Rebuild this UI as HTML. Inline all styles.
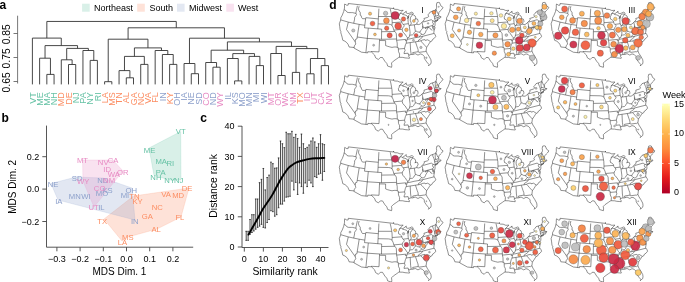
<!DOCTYPE html>
<html><head><meta charset="utf-8"><style>
html,body{margin:0;padding:0;background:#fff;}
svg{display:block;font-family:"Liberation Sans", sans-serif;will-change:transform;}
</style></head><body>
<svg width="685" height="282" viewBox="0 0 685 282">
<rect width="685" height="282" fill="#fff"/>
<defs><path id="us" d="M348.3 3.5L348.2 5.1L346.9 5.3L344.7 4.0L344.5 5.2L344.5 8.0L344.1 9.6L343.7 11.5L342.3 15.1L340.8 17.8L340.7 19.9L339.3 23.8L339.7 26.3L340.2 30.5L341.0 31.3L340.8 32.8L341.4 34.6L342.1 37.1L342.8 40.3L345.0 41.2L346.8 42.7L348.0 44.2L348.9 46.4L349.0 47.0L354.1 47.5L353.9 48.0L361.5 52.2L367.7 52.9L367.8 51.7L371.5 52.0L374.6 55.0L375.6 57.8L378.4 59.5L380.3 57.5L382.5 57.5L384.9 61.3L386.8 63.4L387.7 66.1L391.6 67.3L391.8 65.5L391.5 63.0L393.3 61.2L396.8 58.8L398.5 57.6L399.4 57.3L402.8 57.4L405.0 57.9L407.5 58.1L409.4 58.3L409.5 57.4L408.5 56.2L409.1 55.5L408.6 55.2L411.2 54.4L412.1 54.6L413.2 54.3L415.3 53.7L418.0 55.1L420.2 53.9L422.4 54.5L424.3 56.5L424.4 58.5L426.2 61.2L427.6 63.0L429.0 64.5L428.5 65.9L429.7 64.7L430.9 63.8L431.2 61.9L430.9 59.7L429.0 56.2L427.1 53.3L426.1 50.9L426.6 47.3L428.3 44.9L429.4 43.1L430.5 41.6L431.8 41.1L432.7 39.3L434.2 38.4L435.8 36.4L435.2 34.9L434.2 33.4L433.8 32.6L434.1 30.9L434.4 29.4L434.4 28.3L434.1 27.4L433.2 26.4L434.3 27.0L435.0 25.5L435.1 23.6L434.9 22.6L435.3 22.2L438.2 19.9L436.3 20.9L435.1 21.3L436.3 20.1L438.1 19.3L438.8 18.6L439.3 18.3L440.1 17.9L441.1 17.2L440.6 16.3L440.0 17.2L439.3 16.3L438.7 16.2L439.1 15.2L438.5 14.8L438.6 14.2L438.9 12.5L440.5 10.6L441.6 9.6L443.1 7.5L440.9 5.9L439.5 2.6L438.4 2.4L436.9 2.7L436.4 5.0L436.7 7.1L436.3 8.7L435.9 9.1L435.5 10.1L430.2 12.0L428.8 14.0L428.0 14.8L428.7 16.5L427.5 17.4L423.9 18.5L424.4 19.3L423.2 21.3L422.0 22.3L420.1 24.1L418.3 24.6L416.8 24.2L417.1 22.6L418.1 21.6L418.0 20.6L417.5 19.1L415.8 18.7L415.0 19.7L415.7 17.7L415.2 16.0L413.7 15.0L412.5 14.4L412.2 15.5L411.2 16.2L410.4 17.9L410.3 20.5L411.3 23.2L410.5 25.3L409.2 25.6L408.4 23.7L408.2 22.4L408.0 19.9L408.7 16.4L407.9 18.1L407.3 18.7L407.8 17.1L408.6 15.4L409.4 14.8L411.0 13.9L412.5 14.2L413.4 13.2L412.7 12.6L411.6 12.2L409.1 13.4L407.6 13.5L406.0 12.7L406.3 11.2L405.2 12.0L404.0 13.1L402.3 14.0L401.2 13.3L399.4 14.0L402.6 10.9L403.2 10.3L400.0 10.5L397.4 9.4L394.7 9.3L393.7 8.6L393.6 7.7L393.7 8.6L348.3 3.5ZM344.1 9.6L345.8 10.5L347.1 12.2L348.8 12.6L351.5 12.6L352.4 12.6L356.0 13.4M357.4 5.8L356.0 12.3L356.0 13.4M356.0 13.4L356.5 14.5L355.7 15.9L354.6 17.5L354.6 19.1L353.7 23.3M340.7 19.9L348.3 22.1L353.7 23.3L359.2 24.4L364.8 25.3M348.3 22.1L346.5 29.5L355.2 41.8M355.2 41.8L355.5 39.3L356.9 39.0L357.2 37.0M357.2 37.0L359.2 24.4M355.2 41.8L355.8 44.0L354.4 45.8L354.1 47.5M359.1 6.2L358.5 8.7L358.8 10.3L360.3 12.7L360.2 15.2L361.2 15.7L361.5 17.3L362.5 18.7L364.9 18.7L365.6 19.0M365.6 19.0L364.8 25.3M365.6 19.0L365.8 17.7L378.3 18.9M378.9 8.7L377.8 29.0M364.8 25.3L364.5 27.8L381.7 29.2L381.6 31.7M368.3 28.3L365.9 52.7M357.2 37.0L367.2 38.4M367.2 38.4L381.5 39.3L381.6 31.7M379.5 39.3L379.5 40.5L379.0 51.9L371.3 51.5L371.5 52.0M378.5 16.5L391.7 16.5M390.2 8.8L391.0 12.3L391.6 15.6L391.7 16.5L392.0 18.1L392.2 22.7M392.2 22.7L392.0 25.3M378.1 23.9L388.4 24.1L390.3 24.4L392.0 25.3M392.0 25.3L393.2 27.8L393.8 30.1L394.8 31.5M381.6 31.7L394.8 31.5M394.8 31.5L395.6 32.5L396.3 33.7L396.6 39.0M381.5 39.3L396.6 39.0M379.5 40.5L385.6 40.6L385.6 45.5L387.3 46.2L389.8 46.9L392.0 47.4L394.1 47.0L396.2 47.0L397.3 47.5M396.6 39.0L396.6 40.3L397.2 43.0L397.3 47.5M397.3 47.5L398.3 47.7L398.5 51.6L399.6 54.0L399.5 55.8L399.4 57.3M398.4 49.0L404.5 48.5M396.6 40.3L405.7 39.4L405.4 40.8L406.8 40.6M406.8 40.6L406.5 41.9L406.2 43.2L405.4 44.9L404.5 48.5L405.1 50.5L404.3 52.1L404.0 53.6L408.1 53.2L408.6 55.2M393.8 30.1L401.6 29.4L402.2 29.9M402.2 29.9L402.8 31.8L404.2 33.5L405.1 34.2L406.5 36.5L407.6 37.9M407.6 37.9L407.1 39.3L406.8 40.6M392.2 22.7L401.8 22.0M401.8 22.0L402.1 23.2L403.1 24.4L404.2 25.6L403.7 26.9L402.8 27.8L402.2 29.9M399.4 14.0L399.2 15.6L398.4 16.9L398.7 19.1L400.1 19.7L401.7 21.2L401.8 22.0M403.1 24.4L408.4 23.7M402.3 14.0L402.9 14.5L404.8 14.9L406.6 15.5L407.8 17.1M409.2 25.6L410.0 31.6L410.1 33.2L409.6 35.6M409.6 35.6L409.0 37.5L407.6 37.9M410.5 25.3L414.3 24.8L416.8 24.2M414.3 24.8L415.4 31.3M415.4 31.3L414.4 32.4L413.8 33.7L412.6 34.8L410.6 35.1L409.6 35.6M415.4 31.3L416.2 31.1L417.8 32.0L420.0 32.1M420.0 32.1L420.7 30.7L421.7 29.4L422.7 28.2L422.6 25.7M422.8 25.7L422.0 22.3M423.2 21.3L423.4 22.0L431.3 19.7L433.0 20.9M433.0 20.9L432.5 22.3L433.0 23.5L433.7 23.8L433.1 24.8L432.7 25.2M432.7 25.2L432.2 25.6L423.3 28.0L422.8 25.7M432.7 25.2L432.9 25.9M432.2 25.6L433.0 28.7L434.4 28.3M433.2 30.0L434.4 29.4M432.4 30.2L430.8 29.5L430.4 28.5L429.3 27.8L428.7 27.6M428.7 27.6L427.5 27.2L426.6 27.5L425.6 28.8L425.3 27.5M428.7 27.6L427.6 27.7L427.0 29.5L426.0 30.8L425.5 32.2L425.0 33.4L423.9 34.2L422.8 34.6L421.7 34.1M421.7 34.1L421.0 33.8L420.1 32.8L420.0 32.1M421.7 34.1L420.4 35.4L418.8 37.1M418.8 37.1L422.7 36.3L434.2 33.4M418.8 37.1L414.1 37.9L410.0 38.9L407.1 39.3M422.7 36.3L421.9 37.8L420.3 39.0L418.6 40.0L418.2 41.4M418.2 41.4L406.2 43.2M418.2 41.4L420.7 40.9M420.7 40.9L422.2 40.1L424.8 39.6L425.2 40.4L427.7 39.8L430.5 41.6M420.7 40.9L422.0 42.2L423.6 44.1L424.9 45.5L426.6 47.3M415.5 41.9L417.2 47.1L418.0 49.2L418.3 51.7M418.3 51.7L418.8 52.4L424.5 51.6L424.9 51.9L426.1 50.9M418.3 51.7L412.7 52.6L413.2 54.3M410.2 42.7L410.6 50.6L411.2 54.4M432.5 11.2L433.1 13.4L433.8 14.7L434.4 16.6M434.4 16.6L434.6 18.5L435.3 20.8L435.1 21.3M433.0 20.9L434.7 21.3L434.7 22.3M435.5 10.1L435.7 11.1L435.2 12.1L435.3 14.3L435.8 16.2M434.4 16.6L435.8 16.2L437.9 15.5L438.5 14.8M435.9 9.1L437.2 12.2L437.8 13.6L438.6 14.2M434.6 18.5L437.6 17.5L438.3 17.2L438.9 17.9L439.3 18.3M437.6 17.5L438.1 19.3" fill="none" stroke="#222" stroke-width="0.5" stroke-linejoin="round"/></defs>
<text x="-0.6" y="8.7" font-size="12" font-weight="bold">a</text>
<text x="1.6" y="121.8" font-size="12" font-weight="bold">b</text>
<text x="200.2" y="122" font-size="12" font-weight="bold">c</text>
<text x="329.2" y="8.7" font-size="12" font-weight="bold">d</text>
<rect x="82.1" y="3.7" width="7.6" height="8" fill="#d9f0e8"/>
<text x="94" y="11.1" font-size="9">Northeast</text>
<rect x="137.2" y="3.7" width="7.6" height="8" fill="#fee2d8"/>
<text x="149.5" y="11.1" font-size="9">South</text>
<rect x="177" y="3.7" width="7.6" height="8" fill="#e3e8f2"/>
<text x="189" y="11.1" font-size="9">Midwest</text>
<rect x="226.3" y="3.7" width="7.6" height="8" fill="#f9e2f0"/>
<text x="238" y="11.1" font-size="9">West</text>
<path d="M46.84 84.4V74.4H54.07V84.4M39.62 84.4V58.2H50.45V74.4M68.51 84.4V64.5H75.73V84.4M61.29 84.4V59.8H72.12V64.5M90.18 84.4V60.4H97.4V84.4M82.95 84.4V50.5H93.79V60.4M66.7 59.8V48.4H88.37V50.5M45.04 58.2V45.6H77.54V48.4M32.4 84.4V38.1H61.29V45.6M104.62 84.4V81.7H111.84V84.4M126.29 84.4V77.8H133.51V84.4M119.06 84.4V70.6H129.9V77.8M140.73 84.4V64.4H147.95V84.4M124.48 70.6V56.4H144.34V64.4M169.62 84.4V64.4H176.84V84.4M162.4 84.4V54.5H173.23V64.4M155.17 84.4V50.5H167.81V54.5M134.41 56.4V47.9H161.49V50.5M108.23 81.7V39.2H147.95V47.9M191.28 84.4V73.7H198.51V84.4M184.06 84.4V63.5H194.9V73.7M212.95 84.4V67.2H220.17V84.4M205.73 84.4V62.5H216.56V67.2M234.62 84.4V80.9H241.84V84.4M227.39 84.4V58.5H238.23V80.9M256.28 84.4V65.6H263.5V84.4M249.06 84.4V56.4H259.89V65.6M232.81 58.5V53.6H254.48V56.4M211.14 62.5V50.2H243.64V53.6M277.95 84.4V75.5H285.17V84.4M270.73 84.4V53.5H281.56V75.5M292.39 84.4V72.4H299.61V84.4M306.84 84.4V73.8H314.06V84.4M321.28 84.4V65.6H328.5V84.4M310.45 73.8V58.5H324.89V65.6M296 72.4V48.6H317.67V58.5M276.14 53.5V46.4H306.84V48.6M227.39 50.2V41.9H291.49V46.4M189.48 63.5V38.2H259.44V41.9M128.09 39.2V27.8H224.46V38.2M46.84 38.1V21.45H176.28V27.8" fill="none" stroke="#333" stroke-width="0.9"/>
<text x="35.6" y="92.3" font-size="9" fill="#66c2a5" text-anchor="end" transform="rotate(-90 35.6 92.3)">VT</text>
<text x="42.82" y="92.3" font-size="9" fill="#66c2a5" text-anchor="end" transform="rotate(-90 42.82 92.3)">ME</text>
<text x="50.04" y="92.3" font-size="9" fill="#66c2a5" text-anchor="end" transform="rotate(-90 50.04 92.3)">MA</text>
<text x="57.27" y="92.3" font-size="9" fill="#66c2a5" text-anchor="end" transform="rotate(-90 57.27 92.3)">NH</text>
<text x="64.49" y="92.3" font-size="9" fill="#fc8d62" text-anchor="end" transform="rotate(-90 64.49 92.3)">MD</text>
<text x="71.71" y="92.3" font-size="9" fill="#fc8d62" text-anchor="end" transform="rotate(-90 71.71 92.3)">DE</text>
<text x="78.93" y="92.3" font-size="9" fill="#66c2a5" text-anchor="end" transform="rotate(-90 78.93 92.3)">NJ</text>
<text x="86.15" y="92.3" font-size="9" fill="#66c2a5" text-anchor="end" transform="rotate(-90 86.15 92.3)">PA</text>
<text x="93.38" y="92.3" font-size="9" fill="#66c2a5" text-anchor="end" transform="rotate(-90 93.38 92.3)">NY</text>
<text x="100.6" y="92.3" font-size="9" fill="#66c2a5" text-anchor="end" transform="rotate(-90 100.6 92.3)">RI</text>
<text x="107.82" y="92.3" font-size="9" fill="#fc8d62" text-anchor="end" transform="rotate(-90 107.82 92.3)">LA</text>
<text x="115.04" y="92.3" font-size="9" fill="#fc8d62" text-anchor="end" transform="rotate(-90 115.04 92.3)">MS</text>
<text x="122.26" y="92.3" font-size="9" fill="#fc8d62" text-anchor="end" transform="rotate(-90 122.26 92.3)">TN</text>
<text x="129.49" y="92.3" font-size="9" fill="#fc8d62" text-anchor="end" transform="rotate(-90 129.49 92.3)">AL</text>
<text x="136.71" y="92.3" font-size="9" fill="#fc8d62" text-anchor="end" transform="rotate(-90 136.71 92.3)">GA</text>
<text x="143.93" y="92.3" font-size="9" fill="#fc8d62" text-anchor="end" transform="rotate(-90 143.93 92.3)">NC</text>
<text x="151.15" y="92.3" font-size="9" fill="#fc8d62" text-anchor="end" transform="rotate(-90 151.15 92.3)">VA</text>
<text x="158.37" y="92.3" font-size="9" fill="#fc8d62" text-anchor="end" transform="rotate(-90 158.37 92.3)">FL</text>
<text x="165.6" y="92.3" font-size="9" fill="#8da0cb" text-anchor="end" transform="rotate(-90 165.6 92.3)">IN</text>
<text x="172.82" y="92.3" font-size="9" fill="#fc8d62" text-anchor="end" transform="rotate(-90 172.82 92.3)">KY</text>
<text x="180.04" y="92.3" font-size="9" fill="#8da0cb" text-anchor="end" transform="rotate(-90 180.04 92.3)">OH</text>
<text x="187.26" y="92.3" font-size="9" fill="#8da0cb" text-anchor="end" transform="rotate(-90 187.26 92.3)">IA</text>
<text x="194.48" y="92.3" font-size="9" fill="#8da0cb" text-anchor="end" transform="rotate(-90 194.48 92.3)">NE</text>
<text x="201.71" y="92.3" font-size="9" fill="#8da0cb" text-anchor="end" transform="rotate(-90 201.71 92.3)">SD</text>
<text x="208.93" y="92.3" font-size="9" fill="#e78ac3" text-anchor="end" transform="rotate(-90 208.93 92.3)">CO</text>
<text x="216.15" y="92.3" font-size="9" fill="#8da0cb" text-anchor="end" transform="rotate(-90 216.15 92.3)">ND</text>
<text x="223.37" y="92.3" font-size="9" fill="#e78ac3" text-anchor="end" transform="rotate(-90 223.37 92.3)">WY</text>
<text x="230.59" y="92.3" font-size="9" fill="#8da0cb" text-anchor="end" transform="rotate(-90 230.59 92.3)">IL</text>
<text x="237.82" y="92.3" font-size="9" fill="#8da0cb" text-anchor="end" transform="rotate(-90 237.82 92.3)">KS</text>
<text x="245.04" y="92.3" font-size="9" fill="#8da0cb" text-anchor="end" transform="rotate(-90 245.04 92.3)">MO</text>
<text x="252.26" y="92.3" font-size="9" fill="#8da0cb" text-anchor="end" transform="rotate(-90 252.26 92.3)">MN</text>
<text x="259.48" y="92.3" font-size="9" fill="#8da0cb" text-anchor="end" transform="rotate(-90 259.48 92.3)">MI</text>
<text x="266.7" y="92.3" font-size="9" fill="#8da0cb" text-anchor="end" transform="rotate(-90 266.7 92.3)">WI</text>
<text x="273.93" y="92.3" font-size="9" fill="#e78ac3" text-anchor="end" transform="rotate(-90 273.93 92.3)">MT</text>
<text x="281.15" y="92.3" font-size="9" fill="#e78ac3" text-anchor="end" transform="rotate(-90 281.15 92.3)">OR</text>
<text x="288.37" y="92.3" font-size="9" fill="#e78ac3" text-anchor="end" transform="rotate(-90 288.37 92.3)">WA</text>
<text x="295.59" y="92.3" font-size="9" fill="#e78ac3" text-anchor="end" transform="rotate(-90 295.59 92.3)">NM</text>
<text x="302.81" y="92.3" font-size="9" fill="#fc8d62" text-anchor="end" transform="rotate(-90 302.81 92.3)">TX</text>
<text x="310.04" y="92.3" font-size="9" fill="#e78ac3" text-anchor="end" transform="rotate(-90 310.04 92.3)">ID</text>
<text x="317.26" y="92.3" font-size="9" fill="#e78ac3" text-anchor="end" transform="rotate(-90 317.26 92.3)">UT</text>
<text x="324.48" y="92.3" font-size="9" fill="#e78ac3" text-anchor="end" transform="rotate(-90 324.48 92.3)">CA</text>
<text x="331.7" y="92.3" font-size="9" fill="#e78ac3" text-anchor="end" transform="rotate(-90 331.7 92.3)">NV</text>
<path d="M17.6 15.7V83.5M13.5 33.5H17.6M13.5 57.5H17.6M13.5 81.5H17.6" fill="none" stroke="#555" stroke-width="0.8"/>
<text x="9.8" y="34.35" font-size="10.3" text-anchor="middle" transform="rotate(-90 9.8 34.35)">0.85</text>
<text x="9.8" y="58.4" font-size="10.3" text-anchor="middle" transform="rotate(-90 9.8 58.4)">0.75</text>
<text x="9.8" y="82.4" font-size="10.3" text-anchor="middle" transform="rotate(-90 9.8 82.4)">0.65</text>
<polygon points="180.7,131.5 149,148 154,175.5 170,180 181,180" fill="#66c2a5" fill-opacity="0.25" stroke="#66c2a5" stroke-opacity="0.3" stroke-width="0.6" stroke-linejoin="round"/>
<polygon points="133.5,196 189,188 181,217 157,229 128,237 122,241 104,219" fill="#fc8d62" fill-opacity="0.25" stroke="#fc8d62" stroke-opacity="0.3" stroke-width="0.6" stroke-linejoin="round"/>
<polygon points="51,183.5 76,177 103,178 132,188 135,220 58,200" fill="#8da0cb" fill-opacity="0.25" stroke="#8da0cb" stroke-opacity="0.3" stroke-width="0.6" stroke-linejoin="round"/>
<polygon points="82.5,160 113,160 123,171 94,207 83,181" fill="#e78ac3" fill-opacity="0.25" stroke="#e78ac3" stroke-opacity="0.3" stroke-width="0.6" stroke-linejoin="round"/>
<text x="180.7" y="133.9" font-size="7.7" fill="#66c2a5" text-anchor="middle">VT</text>
<text x="149.5" y="153" font-size="7.7" fill="#66c2a5" text-anchor="middle">ME</text>
<text x="161.2" y="163.9" font-size="7.7" fill="#66c2a5" text-anchor="middle">MA</text>
<text x="170.3" y="166" font-size="7.7" fill="#66c2a5" text-anchor="middle">RI</text>
<text x="160.7" y="174.5" font-size="7.7" fill="#66c2a5" text-anchor="middle">PA</text>
<text x="155.9" y="180" font-size="7.7" fill="#66c2a5" text-anchor="middle">NH</text>
<text x="169.7" y="183.3" font-size="7.7" fill="#66c2a5" text-anchor="middle">NY</text>
<text x="178.6" y="183.3" font-size="7.7" fill="#66c2a5" text-anchor="middle">NJ</text>
<text x="187.1" y="190.8" font-size="7.7" fill="#fc8d62" text-anchor="middle">DE</text>
<text x="166.1" y="197.2" font-size="7.7" fill="#fc8d62" text-anchor="middle">VA</text>
<text x="178.2" y="197.6" font-size="7.7" fill="#fc8d62" text-anchor="middle">MD</text>
<text x="157.2" y="209.9" font-size="7.7" fill="#fc8d62" text-anchor="middle">NC</text>
<text x="147.3" y="219" font-size="7.7" fill="#fc8d62" text-anchor="middle">GA</text>
<text x="179.9" y="219.8" font-size="7.7" fill="#fc8d62" text-anchor="middle">FL</text>
<text x="156.2" y="232.4" font-size="7.7" fill="#fc8d62" text-anchor="middle">AL</text>
<text x="127.8" y="239.7" font-size="7.7" fill="#fc8d62" text-anchor="middle">MS</text>
<text x="122.5" y="245" font-size="7.7" fill="#fc8d62" text-anchor="middle">LA</text>
<text x="102.2" y="223.5" font-size="7.7" fill="#fc8d62" text-anchor="middle">TX</text>
<text x="134.4" y="199.4" font-size="7.7" fill="#fc8d62" text-anchor="middle">TN</text>
<text x="137.6" y="203.7" font-size="7.7" fill="#fc8d62" text-anchor="middle">KY</text>
<text x="53.1" y="187.3" font-size="7.7" fill="#8da0cb" text-anchor="middle">NE</text>
<text x="58.8" y="204.3" font-size="7.7" fill="#8da0cb" text-anchor="middle">IA</text>
<text x="74.8" y="199.4" font-size="7.7" fill="#8da0cb" text-anchor="middle">MN</text>
<text x="85.9" y="199.4" font-size="7.7" fill="#8da0cb" text-anchor="middle">WI</text>
<text x="77.2" y="181" font-size="7.7" fill="#8da0cb" text-anchor="middle">SD</text>
<text x="102.7" y="182.6" font-size="7.7" fill="#8da0cb" text-anchor="middle">ND</text>
<text x="107.5" y="192.6" font-size="7.7" fill="#8da0cb" text-anchor="middle">KS</text>
<text x="102" y="196.1" font-size="7.7" fill="#8da0cb" text-anchor="middle">MO</text>
<text x="131.3" y="193.1" font-size="7.7" fill="#8da0cb" text-anchor="middle">OH</text>
<text x="125" y="198.4" font-size="7.7" fill="#8da0cb" text-anchor="middle">MI</text>
<text x="101.4" y="210" font-size="7.7" fill="#8da0cb" text-anchor="middle">IL</text>
<text x="134.8" y="223.5" font-size="7.7" fill="#8da0cb" text-anchor="middle">IN</text>
<text x="82.5" y="163.1" font-size="7.7" fill="#e78ac3" text-anchor="middle">MT</text>
<text x="103.2" y="165" font-size="7.7" fill="#e78ac3" text-anchor="middle">NV</text>
<text x="113.1" y="162.9" font-size="7.7" fill="#e78ac3" text-anchor="middle">CA</text>
<text x="107.1" y="171.9" font-size="7.7" fill="#e78ac3" text-anchor="middle">ID</text>
<text x="113.9" y="176.6" font-size="7.7" fill="#e78ac3" text-anchor="middle">WA</text>
<text x="122.7" y="175.1" font-size="7.7" fill="#e78ac3" text-anchor="middle">OR</text>
<text x="109.1" y="182.6" font-size="7.7" fill="#e78ac3" text-anchor="middle">NM</text>
<text x="83.1" y="183.8" font-size="7.7" fill="#e78ac3" text-anchor="middle">WY</text>
<text x="99.6" y="190.5" font-size="7.7" fill="#e78ac3" text-anchor="middle">CO</text>
<text x="93.5" y="210" font-size="7.7" fill="#e78ac3" text-anchor="middle">UT</text>
<path d="M46.5 125.6V247.2H193.2" fill="none" stroke="#444" stroke-width="0.9"/>
<path d="M42.3 156.7H46.5M42.3 189.1H46.5M42.3 221.5H46.5M56.9 247.2V251.3M80.1 247.2V251.3M103.3 247.2V251.3M126.5 247.2V251.3M149.7 247.2V251.3M172.9 247.2V251.3" fill="none" stroke="#444" stroke-width="0.9"/>
<text x="39.3" y="159.9" font-size="9" text-anchor="end">0.2</text>
<text x="39.3" y="192.3" font-size="9" text-anchor="end">0.0</text>
<text x="39.3" y="224.7" font-size="9" text-anchor="end">−0.2</text>
<text x="56.9" y="261.8" font-size="9" text-anchor="middle">−0.3</text>
<text x="80.1" y="261.8" font-size="9" text-anchor="middle">−0.2</text>
<text x="103.3" y="261.8" font-size="9" text-anchor="middle">−0.1</text>
<text x="126.5" y="261.8" font-size="9" text-anchor="middle">0.0</text>
<text x="149.7" y="261.8" font-size="9" text-anchor="middle">0.1</text>
<text x="172.9" y="261.8" font-size="9" text-anchor="middle">0.2</text>
<text x="119.4" y="275.2" font-size="10" text-anchor="middle">MDS Dim. 1</text>
<text x="15.6" y="186.8" font-size="10" text-anchor="middle" transform="rotate(-90 15.6 186.8)">MDS Dim. 2</text>
<path d="M246.21 231.3V240.36M245.41 231.3H247.01M245.41 240.36H247.01M248.11 231.3V240.36M247.31 231.3H248.91M247.31 240.36H248.91M250.02 219.52V234.32M249.22 219.52H250.82M249.22 234.32H250.82M251.92 214.69V232.5M251.12 214.69H252.72M251.12 232.5H252.72M253.83 214.69V230.99M253.03 214.69H254.63M253.03 230.99H254.63M255.73 198.98V229.18M254.93 198.98H256.53M254.93 229.18H256.53M257.63 198.98V227.37M256.83 198.98H258.44M256.83 227.37H258.44M259.54 182.67V226.16M258.74 182.67H260.34M258.74 226.16H260.34M261.44 179.35V224.35M260.64 179.35H262.25M260.64 224.35H262.25M263.35 168.48V227.37M262.55 168.48H264.15M262.55 227.37H264.15M265.25 189.92V227.97M264.45 189.92H266.06M264.45 227.97H266.06M267.16 177.54V222.54M266.36 177.54H267.96M266.36 222.54H267.96M269.06 175.12V219.52M268.26 175.12H269.87M268.26 219.52H269.87M270.97 162.14V210.76M270.17 162.14H271.77M270.17 210.76H271.77M272.88 163.65V211.67M272.07 163.65H273.68M272.07 211.67H273.68M274.78 168.18V216.2M273.98 168.18H275.58M273.98 216.2H275.58M276.69 167.88V214.69M275.88 167.88H277.49M275.88 214.69H277.49M278.59 157.91V207.74M277.79 157.91H279.39M277.79 207.74H279.39M280.5 141V204.12M279.69 141H281.3M279.69 204.12H281.3M282.4 143.72V204.12M281.6 143.72H283.2M281.6 204.12H283.2M284.31 147.64V201.1M283.5 147.64H285.11M283.5 201.1H285.11M286.21 132.24V197.17M285.41 132.24H287.01M285.41 197.17H287.01M288.12 133.75V196.87M287.31 133.75H288.92M287.31 196.87H288.92M290.02 133.75V196.26M289.22 133.75H290.82M289.22 196.26H290.82M291.93 131.33V181.16M291.12 131.33H292.73M291.12 181.16H292.73M293.83 137.37V189.92M293.03 137.37H294.63M293.03 189.92H294.63M295.74 134.35V182.37M294.94 134.35H296.54M294.94 182.37H296.54M297.64 138.58V194.45M296.84 138.58H298.44M296.84 194.45H298.44M299.55 147.34V182.98M298.75 147.34H300.35M298.75 182.98H300.35M301.45 134.05V186.6M300.65 134.05H302.25M300.65 186.6H302.25M303.36 143.72V193.24M302.56 143.72H304.16M302.56 193.24H304.16M305.26 148.55V182.98M304.46 148.55H306.06M304.46 182.98H306.06M307.17 147.34V186.6M306.37 147.34H307.97M306.37 186.6H307.97M309.07 144.92V180.26M308.27 144.92H309.87M308.27 180.26H309.87M310.98 141V182.98M310.18 141H311.78M310.18 182.98H311.78M312.88 137.98V186.6M312.08 137.98H313.68M312.08 186.6H313.68M314.79 141.9V176.63M313.99 141.9H315.59M313.99 176.63H315.59M316.69 147.34V177.54M315.89 147.34H317.49M315.89 177.54H317.49M318.6 143.72V174.22M317.8 143.72H319.4M317.8 174.22H319.4M320.5 134.66V173.31M319.7 134.66H321.3M319.7 173.31H321.3M322.41 143.72V180.26M321.61 143.72H323.21M321.61 180.26H323.21M324.31 144.62V171.5M323.51 144.62H325.11M323.51 171.5H325.11" fill="none" stroke="#111" stroke-width="0.75"/>
<path d="M248.49 234.62C249.06 233.61 250.71 230.69 251.92 228.58C253.13 226.46 254.56 224 255.73 221.93C256.9 219.87 257.7 218.46 258.97 216.2C260.24 213.93 261.76 210.91 263.35 208.34C264.94 205.78 266.91 203.21 268.49 200.79C270.08 198.38 271.16 196.87 272.88 193.85C274.59 190.83 277.19 185.54 278.78 182.67C280.37 179.8 280.91 178.95 282.4 176.63C283.89 174.32 286.15 170.69 287.73 168.78C289.32 166.87 290.46 166.22 291.93 165.16C293.39 164.1 294.59 163.25 296.5 162.44C298.4 161.63 301.13 160.93 303.36 160.33C305.58 159.72 307.61 159.17 309.83 158.82C312.05 158.46 314.28 158.36 316.69 158.21C319.1 158.06 323.04 157.96 324.31 157.91" fill="none" stroke="#000" stroke-width="1.9" stroke-linecap="round"/>
<path d="M242 126V247.5H328.5M237.8 247H242M237.8 216.8H242M237.8 186.6H242M237.8 156.4H242M237.8 126.2H242M244.3 247.5V251.6M263.35 247.5V251.6M282.4 247.5V251.6M301.45 247.5V251.6M320.5 247.5V251.6" fill="none" stroke="#444" stroke-width="0.9"/>
<text x="234.5" y="250.2" font-size="9" text-anchor="end">0</text>
<text x="244.3" y="261.8" font-size="9" text-anchor="middle">0</text>
<text x="234.5" y="220" font-size="9" text-anchor="end">10</text>
<text x="263.35" y="261.8" font-size="9" text-anchor="middle">10</text>
<text x="234.5" y="189.8" font-size="9" text-anchor="end">20</text>
<text x="282.4" y="261.8" font-size="9" text-anchor="middle">20</text>
<text x="234.5" y="159.6" font-size="9" text-anchor="end">30</text>
<text x="301.45" y="261.8" font-size="9" text-anchor="middle">30</text>
<text x="234.5" y="129.4" font-size="9" text-anchor="end">40</text>
<text x="320.5" y="261.8" font-size="9" text-anchor="middle">40</text>
<text x="285" y="275.2" font-size="10.4" text-anchor="middle">Similarity rank</text>
<text x="217.4" y="185.9" font-size="10.4" text-anchor="middle" transform="rotate(-90 217.4 185.9)">Distance rank</text>
<g transform="translate(0 0)"><use href="#us"/>
<circle cx="395.14" cy="15.46" r="4.0" fill="#c62446" fill-opacity="0.92" stroke="#444" stroke-width="0.3"/>
<circle cx="398.16" cy="26.1" r="3.4" fill="#e94a3c" fill-opacity="0.92" stroke="#444" stroke-width="0.3"/>
<circle cx="386.4" cy="20.64" r="2.9" fill="#f68a42" fill-opacity="0.92" stroke="#444" stroke-width="0.3"/>
<circle cx="389.64" cy="35.32" r="2.6" fill="#e94a3c" fill-opacity="0.92" stroke="#444" stroke-width="0.3"/>
<circle cx="372.53" cy="23.54" r="2.4" fill="#f05a3c" fill-opacity="0.92" stroke="#444" stroke-width="0.3"/>
<circle cx="385.6" cy="13.35" r="2.2" fill="#bdbdbd" fill-opacity="0.92" stroke="#444" stroke-width="0.3"/>
<circle cx="403.52" cy="18.95" r="2.2" fill="#f05a3c" fill-opacity="0.92" stroke="#444" stroke-width="0.3"/>
<circle cx="386.67" cy="28.2" r="2.2" fill="#f05a3c" fill-opacity="0.92" stroke="#444" stroke-width="0.3"/>
<circle cx="400.57" cy="35.09" r="2.1" fill="#f05a3c" fill-opacity="0.92" stroke="#444" stroke-width="0.3"/>
<circle cx="433.93" cy="12.37" r="1.9" fill="#f68a42" fill-opacity="0.92" stroke="#444" stroke-width="0.3"/>
<circle cx="416.12" cy="35.34" r="1.9" fill="#e94a3c" fill-opacity="0.92" stroke="#444" stroke-width="0.3"/>
<circle cx="406.41" cy="29.86" r="1.8" fill="#fbaa50" fill-opacity="0.92" stroke="#444" stroke-width="0.3"/>
<circle cx="370.06" cy="13.67" r="1.6" fill="#fcb959" fill-opacity="0.92" stroke="#444" stroke-width="0.3"/>
<circle cx="353.28" cy="30.5" r="1.6" fill="#bdbdbd" fill-opacity="0.92" stroke="#444" stroke-width="0.3"/>
<circle cx="413.87" cy="21" r="1.4" fill="#fcb959" fill-opacity="0.92" stroke="#444" stroke-width="0.3"/>
<circle cx="374.95" cy="34.46" r="1.4" fill="#fcb959" fill-opacity="0.92" stroke="#444" stroke-width="0.3"/>
<circle cx="434" cy="27.86" r="1.3" fill="#bdbdbd" fill-opacity="0.92" stroke="#444" stroke-width="0.3"/>
<circle cx="420.94" cy="47.39" r="1.2" fill="#bdbdbd" fill-opacity="0.92" stroke="#444" stroke-width="0.3"/>
<circle cx="373.65" cy="45.19" r="1.0" fill="#bdbdbd" fill-opacity="0.92" stroke="#444" stroke-width="0.3"/>
<circle cx="413.46" cy="40.3" r="1.0" fill="#bdbdbd" fill-opacity="0.92" stroke="#444" stroke-width="0.3"/>
<circle cx="428.1" cy="23.4" r="0.8" fill="#bdbdbd" fill-opacity="0.92" stroke="#444" stroke-width="0.3"/>
<circle cx="426.38" cy="57.82" r="0.8" fill="#bdbdbd" fill-opacity="0.92" stroke="#444" stroke-width="0.3"/>
<circle cx="438.73" cy="6.76" r="0.6" fill="#bdbdbd" fill-opacity="0.92" stroke="#444" stroke-width="0.3"/>
</g>
<g transform="translate(105.8 0)"><use href="#us"/>
<circle cx="426.27" cy="42.97" r="4.2" fill="#f05a3c" fill-opacity="0.92" stroke="#444" stroke-width="0.3"/>
<circle cx="413.46" cy="40.3" r="3.9" fill="#cb2944" fill-opacity="0.92" stroke="#444" stroke-width="0.3"/>
<circle cx="414.02" cy="48.08" r="3.5" fill="#e23a3c" fill-opacity="0.92" stroke="#444" stroke-width="0.3"/>
<circle cx="420.94" cy="47.39" r="3.5" fill="#d73140" fill-opacity="0.92" stroke="#444" stroke-width="0.3"/>
<circle cx="373.65" cy="45.19" r="3.3" fill="#cb2944" fill-opacity="0.92" stroke="#444" stroke-width="0.3"/>
<circle cx="438.06" cy="17.06" r="3.2" fill="#bdbdbd" fill-opacity="0.92" stroke="#444" stroke-width="0.3"/>
<circle cx="436.74" cy="13.87" r="2.9" fill="#bdbdbd" fill-opacity="0.92" stroke="#444" stroke-width="0.3"/>
<circle cx="413.87" cy="21" r="2.8" fill="#f79246" fill-opacity="0.92" stroke="#444" stroke-width="0.3"/>
<circle cx="423.57" cy="31" r="2.8" fill="#faa24c" fill-opacity="0.92" stroke="#444" stroke-width="0.3"/>
<circle cx="401.81" cy="44.23" r="2.8" fill="#f68a42" fill-opacity="0.92" stroke="#444" stroke-width="0.3"/>
<circle cx="426.38" cy="57.82" r="2.8" fill="#bdbdbd" fill-opacity="0.92" stroke="#444" stroke-width="0.3"/>
<circle cx="398.16" cy="26.1" r="2.7" fill="#fde898" fill-opacity="0.92" stroke="#444" stroke-width="0.3"/>
<circle cx="406.41" cy="29.86" r="2.7" fill="#f89a49" fill-opacity="0.92" stroke="#444" stroke-width="0.3"/>
<circle cx="389.64" cy="35.32" r="2.6" fill="#f79246" fill-opacity="0.92" stroke="#444" stroke-width="0.3"/>
<circle cx="433.93" cy="12.37" r="2.6" fill="#bdbdbd" fill-opacity="0.92" stroke="#444" stroke-width="0.3"/>
<circle cx="434.56" cy="23.76" r="2.6" fill="#bdbdbd" fill-opacity="0.92" stroke="#444" stroke-width="0.3"/>
<circle cx="438.73" cy="6.76" r="2.6" fill="#fbaa50" fill-opacity="0.92" stroke="#444" stroke-width="0.3"/>
<circle cx="349.97" cy="17.3" r="2.4" fill="#f89a49" fill-opacity="0.92" stroke="#444" stroke-width="0.3"/>
<circle cx="372.53" cy="23.54" r="2.3" fill="#f26a3e" fill-opacity="0.92" stroke="#444" stroke-width="0.3"/>
<circle cx="374.95" cy="34.46" r="2.3" fill="#faa24c" fill-opacity="0.92" stroke="#444" stroke-width="0.3"/>
<circle cx="416.12" cy="35.34" r="2.3" fill="#e94a3c" fill-opacity="0.92" stroke="#444" stroke-width="0.3"/>
<circle cx="360.8" cy="20.43" r="2.2" fill="#fde898" fill-opacity="0.92" stroke="#444" stroke-width="0.3"/>
<circle cx="363.68" cy="32.27" r="2.2" fill="#fbaa50" fill-opacity="0.92" stroke="#444" stroke-width="0.3"/>
<circle cx="388.53" cy="53.16" r="2.2" fill="#f68a42" fill-opacity="0.92" stroke="#444" stroke-width="0.3"/>
<circle cx="352.78" cy="8.93" r="2.1" fill="#f89a49" fill-opacity="0.92" stroke="#444" stroke-width="0.3"/>
<circle cx="412.57" cy="29.18" r="2.1" fill="#f89a49" fill-opacity="0.92" stroke="#444" stroke-width="0.3"/>
<circle cx="386.4" cy="20.64" r="2.0" fill="#fde08a" fill-opacity="0.92" stroke="#444" stroke-width="0.3"/>
<circle cx="403.52" cy="18.95" r="2.0" fill="#fcc862" fill-opacity="0.92" stroke="#444" stroke-width="0.3"/>
<circle cx="428.1" cy="23.4" r="2.0" fill="#fbb254" fill-opacity="0.92" stroke="#444" stroke-width="0.3"/>
<circle cx="434" cy="27.86" r="2.0" fill="#faa24c" fill-opacity="0.92" stroke="#444" stroke-width="0.3"/>
<circle cx="346.38" cy="35.74" r="2.0" fill="#fbb254" fill-opacity="0.92" stroke="#444" stroke-width="0.3"/>
<circle cx="402.7" cy="54.37" r="2.0" fill="#fcb959" fill-opacity="0.92" stroke="#444" stroke-width="0.3"/>
<circle cx="430.99" cy="27.46" r="1.9" fill="#fcd06f" fill-opacity="0.92" stroke="#444" stroke-width="0.3"/>
<circle cx="395.14" cy="15.46" r="1.8" fill="#fde898" fill-opacity="0.92" stroke="#444" stroke-width="0.3"/>
<circle cx="407.5" cy="48.65" r="1.8" fill="#fcd06f" fill-opacity="0.92" stroke="#444" stroke-width="0.3"/>
<circle cx="385.6" cy="13.35" r="1.7" fill="#fde898" fill-opacity="0.92" stroke="#444" stroke-width="0.3"/>
<circle cx="370.06" cy="13.67" r="1.6" fill="#fde898" fill-opacity="0.92" stroke="#444" stroke-width="0.3"/>
<circle cx="353.28" cy="30.5" r="1.6" fill="#fbaa50" fill-opacity="0.92" stroke="#444" stroke-width="0.3"/>
<circle cx="419.07" cy="27.41" r="1.5" fill="#fcd87d" fill-opacity="0.92" stroke="#444" stroke-width="0.3"/>
<circle cx="400.57" cy="35.09" r="1.4" fill="#bdbdbd" fill-opacity="0.92" stroke="#444" stroke-width="0.3"/>
<circle cx="430.26" cy="16.65" r="1.2" fill="#fef3ae" fill-opacity="0.92" stroke="#444" stroke-width="0.3"/>
<circle cx="429.45" cy="37.33" r="1.0" fill="#fcd87d" fill-opacity="0.92" stroke="#444" stroke-width="0.3"/>
<circle cx="361.57" cy="44.5" r="0.9" fill="#fef3ae" fill-opacity="0.92" stroke="#444" stroke-width="0.3"/>
</g>
<g transform="translate(211.8 0)"><use href="#us"/>
<circle cx="373.65" cy="45.19" r="4.5" fill="#f05a3c" fill-opacity="0.92" stroke="#444" stroke-width="0.3"/>
<circle cx="407.5" cy="48.65" r="4.4" fill="#cb2944" fill-opacity="0.92" stroke="#444" stroke-width="0.3"/>
<circle cx="426.27" cy="42.97" r="4.3" fill="#f26a3e" fill-opacity="0.92" stroke="#444" stroke-width="0.3"/>
<circle cx="438.06" cy="17.06" r="4.0" fill="#bdbdbd" fill-opacity="0.92" stroke="#444" stroke-width="0.3"/>
<circle cx="434.56" cy="23.76" r="4.0" fill="#bdbdbd" fill-opacity="0.92" stroke="#444" stroke-width="0.3"/>
<circle cx="389.64" cy="35.32" r="3.9" fill="#cb2944" fill-opacity="0.92" stroke="#444" stroke-width="0.3"/>
<circle cx="353.28" cy="30.5" r="3.8" fill="#e6423c" fill-opacity="0.92" stroke="#444" stroke-width="0.3"/>
<circle cx="346.38" cy="35.74" r="3.8" fill="#d12d42" fill-opacity="0.92" stroke="#444" stroke-width="0.3"/>
<circle cx="423.57" cy="31" r="3.8" fill="#f26a3e" fill-opacity="0.92" stroke="#444" stroke-width="0.3"/>
<circle cx="386.4" cy="20.64" r="3.6" fill="#f68a42" fill-opacity="0.92" stroke="#444" stroke-width="0.3"/>
<circle cx="361.57" cy="44.5" r="3.6" fill="#cb2944" fill-opacity="0.92" stroke="#444" stroke-width="0.3"/>
<circle cx="413.87" cy="21" r="3.5" fill="#e6423c" fill-opacity="0.92" stroke="#444" stroke-width="0.3"/>
<circle cx="438.73" cy="6.76" r="3.5" fill="#fbaa50" fill-opacity="0.92" stroke="#444" stroke-width="0.3"/>
<circle cx="363.68" cy="32.27" r="3.3" fill="#f05a3c" fill-opacity="0.92" stroke="#444" stroke-width="0.3"/>
<circle cx="433.93" cy="12.37" r="3.3" fill="#f79246" fill-opacity="0.92" stroke="#444" stroke-width="0.3"/>
<circle cx="430.26" cy="16.65" r="3.3" fill="#f47a40" fill-opacity="0.92" stroke="#444" stroke-width="0.3"/>
<circle cx="391.8" cy="42.83" r="3.3" fill="#e23a3c" fill-opacity="0.92" stroke="#444" stroke-width="0.3"/>
<circle cx="372.53" cy="23.54" r="3.2" fill="#f68a42" fill-opacity="0.92" stroke="#444" stroke-width="0.3"/>
<circle cx="385.6" cy="13.35" r="3.1" fill="#faa24c" fill-opacity="0.92" stroke="#444" stroke-width="0.3"/>
<circle cx="400.57" cy="35.09" r="3.1" fill="#f26a3e" fill-opacity="0.92" stroke="#444" stroke-width="0.3"/>
<circle cx="388.53" cy="53.16" r="3.1" fill="#f05a3c" fill-opacity="0.92" stroke="#444" stroke-width="0.3"/>
<circle cx="352.78" cy="8.93" r="3.0" fill="#f05a3c" fill-opacity="0.92" stroke="#444" stroke-width="0.3"/>
<circle cx="360.8" cy="20.43" r="3.0" fill="#f68a42" fill-opacity="0.92" stroke="#444" stroke-width="0.3"/>
<circle cx="436.74" cy="13.87" r="3.0" fill="#fbaa50" fill-opacity="0.92" stroke="#444" stroke-width="0.3"/>
<circle cx="428.1" cy="23.4" r="3.0" fill="#f79246" fill-opacity="0.92" stroke="#444" stroke-width="0.3"/>
<circle cx="428.8" cy="32.12" r="3.0" fill="#f26a3e" fill-opacity="0.92" stroke="#444" stroke-width="0.3"/>
<circle cx="402.7" cy="54.37" r="3.0" fill="#f68a42" fill-opacity="0.92" stroke="#444" stroke-width="0.3"/>
<circle cx="401.81" cy="44.23" r="2.9" fill="#f68a42" fill-opacity="0.92" stroke="#444" stroke-width="0.3"/>
<circle cx="395.14" cy="15.46" r="2.8" fill="#f47a40" fill-opacity="0.92" stroke="#444" stroke-width="0.3"/>
<circle cx="413.46" cy="40.3" r="2.8" fill="#f05a3c" fill-opacity="0.92" stroke="#444" stroke-width="0.3"/>
<circle cx="398.16" cy="26.1" r="2.7" fill="#faa24c" fill-opacity="0.92" stroke="#444" stroke-width="0.3"/>
<circle cx="406.41" cy="29.86" r="2.7" fill="#f79246" fill-opacity="0.92" stroke="#444" stroke-width="0.3"/>
<circle cx="412.57" cy="29.18" r="2.6" fill="#faa24c" fill-opacity="0.92" stroke="#444" stroke-width="0.3"/>
<circle cx="370.06" cy="13.67" r="2.5" fill="#fbaa50" fill-opacity="0.92" stroke="#444" stroke-width="0.3"/>
<circle cx="420.94" cy="47.39" r="2.5" fill="#faa24c" fill-opacity="0.92" stroke="#444" stroke-width="0.3"/>
<circle cx="349.97" cy="17.3" r="2.4" fill="#f89a49" fill-opacity="0.92" stroke="#444" stroke-width="0.3"/>
<circle cx="374.95" cy="34.46" r="2.4" fill="#fcb959" fill-opacity="0.92" stroke="#444" stroke-width="0.3"/>
<circle cx="426.38" cy="57.82" r="2.4" fill="#bdbdbd" fill-opacity="0.92" stroke="#444" stroke-width="0.3"/>
<circle cx="429.45" cy="37.33" r="2.3" fill="#f26a3e" fill-opacity="0.92" stroke="#444" stroke-width="0.3"/>
<circle cx="414.02" cy="48.08" r="2.3" fill="#fcb959" fill-opacity="0.92" stroke="#444" stroke-width="0.3"/>
<circle cx="430.99" cy="27.46" r="2.2" fill="#f79246" fill-opacity="0.92" stroke="#444" stroke-width="0.3"/>
<circle cx="416.12" cy="35.34" r="2.1" fill="#fcb959" fill-opacity="0.92" stroke="#444" stroke-width="0.3"/>
<circle cx="403.52" cy="18.95" r="1.8" fill="#fcc862" fill-opacity="0.92" stroke="#444" stroke-width="0.3"/>
<circle cx="386.67" cy="28.2" r="1.8" fill="#fcc862" fill-opacity="0.92" stroke="#444" stroke-width="0.3"/>
<circle cx="419.07" cy="27.41" r="1.5" fill="#fcd87d" fill-opacity="0.92" stroke="#444" stroke-width="0.3"/>
</g>
<g transform="translate(0 71.7)"><use href="#us"/>
<circle cx="434.56" cy="23.76" r="2.3" fill="#bdbdbd" fill-opacity="0.92" stroke="#444" stroke-width="0.3"/>
<circle cx="434" cy="27.86" r="2.2" fill="#d73140" fill-opacity="0.92" stroke="#444" stroke-width="0.3"/>
<circle cx="429.45" cy="37.33" r="2.1" fill="#e94a3c" fill-opacity="0.92" stroke="#444" stroke-width="0.3"/>
<circle cx="430.26" cy="16.65" r="2.0" fill="#cb2944" fill-opacity="0.92" stroke="#444" stroke-width="0.3"/>
<circle cx="436.45" cy="19.15" r="2.0" fill="#dc363e" fill-opacity="0.92" stroke="#444" stroke-width="0.3"/>
<circle cx="430.99" cy="27.46" r="2.0" fill="#e6423c" fill-opacity="0.92" stroke="#444" stroke-width="0.3"/>
<circle cx="414.02" cy="48.08" r="1.8" fill="#fde898" fill-opacity="0.92" stroke="#444" stroke-width="0.3"/>
<circle cx="428.8" cy="32.12" r="1.7" fill="#f68a42" fill-opacity="0.92" stroke="#444" stroke-width="0.3"/>
<circle cx="420.94" cy="47.39" r="1.6" fill="#f47a40" fill-opacity="0.92" stroke="#444" stroke-width="0.3"/>
<circle cx="423.57" cy="31" r="1.1" fill="#fde898" fill-opacity="0.92" stroke="#444" stroke-width="0.3"/>
<circle cx="413.87" cy="21" r="1.0" fill="#bdbdbd" fill-opacity="0.92" stroke="#444" stroke-width="0.3"/>
<circle cx="426.38" cy="57.82" r="1.0" fill="#bdbdbd" fill-opacity="0.92" stroke="#444" stroke-width="0.3"/>
<circle cx="403.52" cy="18.95" r="0.9" fill="#bdbdbd" fill-opacity="0.92" stroke="#444" stroke-width="0.3"/>
<circle cx="412.57" cy="29.18" r="0.8" fill="#bdbdbd" fill-opacity="0.92" stroke="#444" stroke-width="0.3"/>
<circle cx="436.74" cy="13.87" r="0.8" fill="#fde898" fill-opacity="0.92" stroke="#444" stroke-width="0.3"/>
<circle cx="388.53" cy="53.16" r="0.6" fill="#bdbdbd" fill-opacity="0.92" stroke="#444" stroke-width="0.3"/>
<circle cx="413.46" cy="40.3" r="0.5" fill="#bdbdbd" fill-opacity="0.92" stroke="#444" stroke-width="0.3"/>
</g>
<g transform="translate(105.8 71.7)"><use href="#us"/>
<circle cx="386.67" cy="28.2" r="4.0" fill="#c62446" fill-opacity="0.92" stroke="#444" stroke-width="0.3"/>
<circle cx="385.6" cy="13.35" r="2.7" fill="#fcc05e" fill-opacity="0.92" stroke="#444" stroke-width="0.3"/>
<circle cx="389.64" cy="35.32" r="2.6" fill="#fcb959" fill-opacity="0.92" stroke="#444" stroke-width="0.3"/>
<circle cx="400.57" cy="35.09" r="2.6" fill="#fcb959" fill-opacity="0.92" stroke="#444" stroke-width="0.3"/>
<circle cx="398.16" cy="26.1" r="2.5" fill="#bdbdbd" fill-opacity="0.92" stroke="#444" stroke-width="0.3"/>
<circle cx="386.4" cy="20.64" r="1.9" fill="#fdf0a5" fill-opacity="0.92" stroke="#444" stroke-width="0.3"/>
<circle cx="372.53" cy="23.54" r="1.5" fill="#fcc862" fill-opacity="0.92" stroke="#444" stroke-width="0.3"/>
<circle cx="403.52" cy="18.95" r="1.5" fill="#bdbdbd" fill-opacity="0.92" stroke="#444" stroke-width="0.3"/>
<circle cx="423.57" cy="31" r="1.5" fill="#fdf0a5" fill-opacity="0.92" stroke="#444" stroke-width="0.3"/>
<circle cx="370.06" cy="13.67" r="1.2" fill="#bdbdbd" fill-opacity="0.92" stroke="#444" stroke-width="0.3"/>
<circle cx="401.81" cy="44.23" r="1.2" fill="#bdbdbd" fill-opacity="0.92" stroke="#444" stroke-width="0.3"/>
<circle cx="363.68" cy="32.27" r="1.1" fill="#bdbdbd" fill-opacity="0.92" stroke="#444" stroke-width="0.3"/>
<circle cx="374.95" cy="34.46" r="1.1" fill="#bdbdbd" fill-opacity="0.92" stroke="#444" stroke-width="0.3"/>
<circle cx="395.14" cy="15.46" r="1.0" fill="#bdbdbd" fill-opacity="0.92" stroke="#444" stroke-width="0.3"/>
<circle cx="430.26" cy="16.65" r="1.0" fill="#bdbdbd" fill-opacity="0.92" stroke="#444" stroke-width="0.3"/>
<circle cx="413.87" cy="21" r="0.9" fill="#bdbdbd" fill-opacity="0.92" stroke="#444" stroke-width="0.3"/>
<circle cx="428.1" cy="23.4" r="0.9" fill="#fef3ae" fill-opacity="0.92" stroke="#444" stroke-width="0.3"/>
<circle cx="388.53" cy="53.16" r="0.8" fill="#bdbdbd" fill-opacity="0.92" stroke="#444" stroke-width="0.3"/>
</g>
<g transform="translate(211.8 71.7)"><use href="#us"/>
<circle cx="349.97" cy="17.3" r="3.5" fill="#c62446" fill-opacity="0.92" stroke="#444" stroke-width="0.3"/>
<circle cx="352.78" cy="8.93" r="3.3" fill="#e23a3c" fill-opacity="0.92" stroke="#444" stroke-width="0.3"/>
<circle cx="370.06" cy="13.67" r="2.7" fill="#f05a3c" fill-opacity="0.92" stroke="#444" stroke-width="0.3"/>
<circle cx="360.8" cy="20.43" r="2.6" fill="#f47a40" fill-opacity="0.92" stroke="#444" stroke-width="0.3"/>
<circle cx="389.64" cy="35.32" r="1.9" fill="#fcd87d" fill-opacity="0.92" stroke="#444" stroke-width="0.3"/>
<circle cx="353.28" cy="30.5" r="1.8" fill="#fbb254" fill-opacity="0.92" stroke="#444" stroke-width="0.3"/>
<circle cx="385.6" cy="13.35" r="1.6" fill="#fcc862" fill-opacity="0.92" stroke="#444" stroke-width="0.3"/>
<circle cx="403.52" cy="18.95" r="1.6" fill="#fcd06f" fill-opacity="0.92" stroke="#444" stroke-width="0.3"/>
<circle cx="346.38" cy="35.74" r="1.6" fill="#fcc862" fill-opacity="0.92" stroke="#444" stroke-width="0.3"/>
<circle cx="373.65" cy="45.19" r="1.6" fill="#fdf0a5" fill-opacity="0.92" stroke="#444" stroke-width="0.3"/>
<circle cx="363.68" cy="32.27" r="1.5" fill="#fbb254" fill-opacity="0.92" stroke="#444" stroke-width="0.3"/>
<circle cx="420.94" cy="47.39" r="1.5" fill="#fde08a" fill-opacity="0.92" stroke="#444" stroke-width="0.3"/>
<circle cx="398.16" cy="26.1" r="1.4" fill="#fcd06f" fill-opacity="0.92" stroke="#444" stroke-width="0.3"/>
<circle cx="438.06" cy="17.06" r="1.4" fill="#fcd87d" fill-opacity="0.92" stroke="#444" stroke-width="0.3"/>
<circle cx="426.27" cy="42.97" r="1.4" fill="#bdbdbd" fill-opacity="0.92" stroke="#444" stroke-width="0.3"/>
<circle cx="395.14" cy="15.46" r="1.2" fill="#bdbdbd" fill-opacity="0.92" stroke="#444" stroke-width="0.3"/>
<circle cx="406.41" cy="29.86" r="1.1" fill="#bdbdbd" fill-opacity="0.92" stroke="#444" stroke-width="0.3"/>
<circle cx="361.57" cy="44.5" r="1.1" fill="#bdbdbd" fill-opacity="0.92" stroke="#444" stroke-width="0.3"/>
<circle cx="413.87" cy="21" r="1.0" fill="#bdbdbd" fill-opacity="0.92" stroke="#444" stroke-width="0.3"/>
<circle cx="374.95" cy="34.46" r="0.9" fill="#bdbdbd" fill-opacity="0.92" stroke="#444" stroke-width="0.3"/>
<circle cx="428.1" cy="23.4" r="0.9" fill="#bdbdbd" fill-opacity="0.92" stroke="#444" stroke-width="0.3"/>
<circle cx="402.7" cy="54.37" r="0.9" fill="#bdbdbd" fill-opacity="0.92" stroke="#444" stroke-width="0.3"/>
<circle cx="423.57" cy="31" r="0.8" fill="#bdbdbd" fill-opacity="0.92" stroke="#444" stroke-width="0.3"/>
<circle cx="436.74" cy="13.87" r="0.7" fill="#bdbdbd" fill-opacity="0.92" stroke="#444" stroke-width="0.3"/>
<circle cx="388.53" cy="53.16" r="0.6" fill="#bdbdbd" fill-opacity="0.92" stroke="#444" stroke-width="0.3"/>
<circle cx="426.38" cy="57.82" r="0.6" fill="#bdbdbd" fill-opacity="0.92" stroke="#444" stroke-width="0.3"/>
</g>
<g transform="translate(0 143.4)"><use href="#us"/>
<circle cx="395.14" cy="15.46" r="3.6" fill="#c02048" fill-opacity="0.92" stroke="#444" stroke-width="0.3"/>
<circle cx="403.52" cy="18.95" r="2.3" fill="#f47a40" fill-opacity="0.92" stroke="#444" stroke-width="0.3"/>
<circle cx="398.16" cy="26.1" r="1.3" fill="#fcb959" fill-opacity="0.92" stroke="#444" stroke-width="0.3"/>
<circle cx="386.4" cy="20.64" r="1.2" fill="#fcb959" fill-opacity="0.92" stroke="#444" stroke-width="0.3"/>
<circle cx="434" cy="27.86" r="0.6" fill="#bdbdbd" fill-opacity="0.92" stroke="#444" stroke-width="0.3"/>
<circle cx="426.38" cy="57.82" r="0.5" fill="#bdbdbd" fill-opacity="0.92" stroke="#444" stroke-width="0.3"/>
</g>
<g transform="translate(105.8 143.4)"><use href="#us"/>
<circle cx="372.53" cy="23.54" r="3.0" fill="#bdbdbd" fill-opacity="0.92" stroke="#444" stroke-width="0.3"/>
<circle cx="363.68" cy="32.27" r="3.0" fill="#cb2944" fill-opacity="0.92" stroke="#444" stroke-width="0.3"/>
<circle cx="386.67" cy="28.2" r="2.3" fill="#f05a3c" fill-opacity="0.92" stroke="#444" stroke-width="0.3"/>
<circle cx="401.81" cy="44.23" r="2.2" fill="#fbb254" fill-opacity="0.92" stroke="#444" stroke-width="0.3"/>
<circle cx="389.64" cy="35.32" r="1.9" fill="#fbaa50" fill-opacity="0.92" stroke="#444" stroke-width="0.3"/>
<circle cx="374.95" cy="34.46" r="1.8" fill="#f05a3c" fill-opacity="0.92" stroke="#444" stroke-width="0.3"/>
<circle cx="423.57" cy="31" r="1.8" fill="#fbaa50" fill-opacity="0.92" stroke="#444" stroke-width="0.3"/>
<circle cx="419.07" cy="27.41" r="1.4" fill="#fbaa50" fill-opacity="0.92" stroke="#444" stroke-width="0.3"/>
<circle cx="436.74" cy="13.87" r="1.3" fill="#fcd06f" fill-opacity="0.92" stroke="#444" stroke-width="0.3"/>
<circle cx="361.57" cy="44.5" r="1.3" fill="#bdbdbd" fill-opacity="0.92" stroke="#444" stroke-width="0.3"/>
<circle cx="403.52" cy="18.95" r="1.2" fill="#bdbdbd" fill-opacity="0.92" stroke="#444" stroke-width="0.3"/>
<circle cx="413.87" cy="21" r="1.2" fill="#fde898" fill-opacity="0.92" stroke="#444" stroke-width="0.3"/>
<circle cx="438.06" cy="17.06" r="1.2" fill="#fcd87d" fill-opacity="0.92" stroke="#444" stroke-width="0.3"/>
<circle cx="398.16" cy="26.1" r="1.1" fill="#bdbdbd" fill-opacity="0.92" stroke="#444" stroke-width="0.3"/>
<circle cx="433.93" cy="12.37" r="1.1" fill="#fdf0a5" fill-opacity="0.92" stroke="#444" stroke-width="0.3"/>
<circle cx="352.78" cy="8.93" r="1.0" fill="#bdbdbd" fill-opacity="0.92" stroke="#444" stroke-width="0.3"/>
<circle cx="360.8" cy="20.43" r="1.0" fill="#bdbdbd" fill-opacity="0.92" stroke="#444" stroke-width="0.3"/>
<circle cx="395.14" cy="15.46" r="1.0" fill="#bdbdbd" fill-opacity="0.92" stroke="#444" stroke-width="0.3"/>
<circle cx="406.41" cy="29.86" r="1.0" fill="#bdbdbd" fill-opacity="0.92" stroke="#444" stroke-width="0.3"/>
<circle cx="373.65" cy="45.19" r="1.0" fill="#bdbdbd" fill-opacity="0.92" stroke="#444" stroke-width="0.3"/>
<circle cx="416.12" cy="35.34" r="1.0" fill="#bdbdbd" fill-opacity="0.92" stroke="#444" stroke-width="0.3"/>
<circle cx="353.28" cy="30.5" r="0.9" fill="#fdf0a5" fill-opacity="0.92" stroke="#444" stroke-width="0.3"/>
<circle cx="428.8" cy="32.12" r="0.9" fill="#fef3ae" fill-opacity="0.92" stroke="#444" stroke-width="0.3"/>
<circle cx="346.38" cy="35.74" r="0.9" fill="#bdbdbd" fill-opacity="0.92" stroke="#444" stroke-width="0.3"/>
<circle cx="388.53" cy="53.16" r="0.9" fill="#bdbdbd" fill-opacity="0.92" stroke="#444" stroke-width="0.3"/>
<circle cx="402.7" cy="54.37" r="0.8" fill="#bdbdbd" fill-opacity="0.92" stroke="#444" stroke-width="0.3"/>
</g>
<g transform="translate(211.8 143.4)"><use href="#us"/>
<circle cx="391.8" cy="42.83" r="4.3" fill="#f05a3c" fill-opacity="0.92" stroke="#444" stroke-width="0.3"/>
<circle cx="388.53" cy="53.16" r="4.2" fill="#cb2944" fill-opacity="0.92" stroke="#444" stroke-width="0.3"/>
<circle cx="426.27" cy="42.97" r="3.6" fill="#e6423c" fill-opacity="0.92" stroke="#444" stroke-width="0.3"/>
<circle cx="373.65" cy="45.19" r="3.1" fill="#ec523c" fill-opacity="0.92" stroke="#444" stroke-width="0.3"/>
<circle cx="438.73" cy="6.76" r="3.0" fill="#f3723f" fill-opacity="0.92" stroke="#444" stroke-width="0.3"/>
<circle cx="389.64" cy="35.32" r="2.8" fill="#e94a3c" fill-opacity="0.92" stroke="#444" stroke-width="0.3"/>
<circle cx="370.06" cy="13.67" r="2.6" fill="#faa24c" fill-opacity="0.92" stroke="#444" stroke-width="0.3"/>
<circle cx="361.57" cy="44.5" r="2.5" fill="#fcd06f" fill-opacity="0.92" stroke="#444" stroke-width="0.3"/>
<circle cx="360.8" cy="20.43" r="2.1" fill="#fbb254" fill-opacity="0.92" stroke="#444" stroke-width="0.3"/>
<circle cx="349.97" cy="17.3" r="2.0" fill="#f89a49" fill-opacity="0.92" stroke="#444" stroke-width="0.3"/>
<circle cx="433.93" cy="12.37" r="1.9" fill="#fcc862" fill-opacity="0.92" stroke="#444" stroke-width="0.3"/>
<circle cx="385.6" cy="13.35" r="1.8" fill="#faa24c" fill-opacity="0.92" stroke="#444" stroke-width="0.3"/>
<circle cx="386.67" cy="28.2" r="1.8" fill="#faa24c" fill-opacity="0.92" stroke="#444" stroke-width="0.3"/>
<circle cx="353.28" cy="30.5" r="1.8" fill="#f89a49" fill-opacity="0.92" stroke="#444" stroke-width="0.3"/>
<circle cx="401.81" cy="44.23" r="1.8" fill="#f1623d" fill-opacity="0.92" stroke="#444" stroke-width="0.3"/>
<circle cx="346.38" cy="35.74" r="1.7" fill="#f89a49" fill-opacity="0.92" stroke="#444" stroke-width="0.3"/>
<circle cx="400.57" cy="35.09" r="1.4" fill="#fbb254" fill-opacity="0.92" stroke="#444" stroke-width="0.3"/>
<circle cx="352.78" cy="8.93" r="1.3" fill="#bdbdbd" fill-opacity="0.92" stroke="#444" stroke-width="0.3"/>
<circle cx="430.99" cy="27.46" r="1.3" fill="#fcc862" fill-opacity="0.92" stroke="#444" stroke-width="0.3"/>
<circle cx="402.7" cy="54.37" r="1.2" fill="#f68a42" fill-opacity="0.92" stroke="#444" stroke-width="0.3"/>
<circle cx="438.06" cy="17.06" r="1.1" fill="#fde08a" fill-opacity="0.92" stroke="#444" stroke-width="0.3"/>
<circle cx="416.12" cy="35.34" r="1.1" fill="#bdbdbd" fill-opacity="0.92" stroke="#444" stroke-width="0.3"/>
<circle cx="413.46" cy="40.3" r="1.1" fill="#fcd06f" fill-opacity="0.92" stroke="#444" stroke-width="0.3"/>
<circle cx="430.26" cy="16.65" r="0.9" fill="#bdbdbd" fill-opacity="0.92" stroke="#444" stroke-width="0.3"/>
<circle cx="419.07" cy="27.41" r="0.9" fill="#bdbdbd" fill-opacity="0.92" stroke="#444" stroke-width="0.3"/>
<circle cx="429.45" cy="37.33" r="0.9" fill="#fcd06f" fill-opacity="0.92" stroke="#444" stroke-width="0.3"/>
<circle cx="428.8" cy="32.12" r="0.9" fill="#bdbdbd" fill-opacity="0.92" stroke="#444" stroke-width="0.3"/>
<circle cx="426.38" cy="57.82" r="0.5" fill="#bdbdbd" fill-opacity="0.92" stroke="#444" stroke-width="0.3"/>
</g>
<g transform="translate(0 214.8)"><use href="#us"/>
<circle cx="419.07" cy="27.41" r="3.0" fill="#e6423c" fill-opacity="0.92" stroke="#444" stroke-width="0.3"/>
<circle cx="426.27" cy="42.97" r="3.0" fill="#e6423c" fill-opacity="0.92" stroke="#444" stroke-width="0.3"/>
<circle cx="438.06" cy="17.06" r="2.5" fill="#f05a3c" fill-opacity="0.92" stroke="#444" stroke-width="0.3"/>
<circle cx="434.56" cy="23.76" r="2.4" fill="#bdbdbd" fill-opacity="0.92" stroke="#444" stroke-width="0.3"/>
<circle cx="430.99" cy="27.46" r="2.4" fill="#e23a3c" fill-opacity="0.92" stroke="#444" stroke-width="0.3"/>
<circle cx="406.41" cy="29.86" r="2.3" fill="#cb2944" fill-opacity="0.92" stroke="#444" stroke-width="0.3"/>
<circle cx="430.26" cy="16.65" r="2.1" fill="#dc363e" fill-opacity="0.92" stroke="#444" stroke-width="0.3"/>
<circle cx="412.57" cy="29.18" r="2.0" fill="#f05a3c" fill-opacity="0.92" stroke="#444" stroke-width="0.3"/>
<circle cx="423.57" cy="31" r="2.0" fill="#f89a49" fill-opacity="0.92" stroke="#444" stroke-width="0.3"/>
<circle cx="400.57" cy="35.09" r="2.0" fill="#f1623d" fill-opacity="0.92" stroke="#444" stroke-width="0.3"/>
<circle cx="426.38" cy="57.82" r="2.0" fill="#bdbdbd" fill-opacity="0.92" stroke="#444" stroke-width="0.3"/>
<circle cx="428.1" cy="23.4" r="1.8" fill="#e94a3c" fill-opacity="0.92" stroke="#444" stroke-width="0.3"/>
<circle cx="413.87" cy="21" r="1.7" fill="#faa24c" fill-opacity="0.92" stroke="#444" stroke-width="0.3"/>
<circle cx="395.14" cy="15.46" r="1.6" fill="#fcc05e" fill-opacity="0.92" stroke="#444" stroke-width="0.3"/>
<circle cx="438.6" cy="18.2" r="1.5" fill="#bdbdbd" fill-opacity="0.92" stroke="#444" stroke-width="0.3"/>
<circle cx="413.46" cy="40.3" r="1.3" fill="#f89a49" fill-opacity="0.92" stroke="#444" stroke-width="0.3"/>
<circle cx="403.52" cy="18.95" r="1.2" fill="#bdbdbd" fill-opacity="0.92" stroke="#444" stroke-width="0.3"/>
<circle cx="346.38" cy="35.74" r="1.1" fill="#fcd06f" fill-opacity="0.92" stroke="#444" stroke-width="0.3"/>
<circle cx="388.53" cy="53.16" r="1.1" fill="#fde08a" fill-opacity="0.92" stroke="#444" stroke-width="0.3"/>
<circle cx="416.12" cy="35.34" r="1.1" fill="#bdbdbd" fill-opacity="0.92" stroke="#444" stroke-width="0.3"/>
<circle cx="352.78" cy="8.93" r="1.0" fill="#bdbdbd" fill-opacity="0.92" stroke="#444" stroke-width="0.3"/>
<circle cx="349.97" cy="17.3" r="1.0" fill="#bdbdbd" fill-opacity="0.92" stroke="#444" stroke-width="0.3"/>
<circle cx="370.06" cy="13.67" r="1.0" fill="#bdbdbd" fill-opacity="0.92" stroke="#444" stroke-width="0.3"/>
<circle cx="363.68" cy="32.27" r="1.0" fill="#bdbdbd" fill-opacity="0.92" stroke="#444" stroke-width="0.3"/>
<circle cx="438.73" cy="6.76" r="1.0" fill="#fef3ae" fill-opacity="0.92" stroke="#444" stroke-width="0.3"/>
<circle cx="361.57" cy="44.5" r="1.0" fill="#bdbdbd" fill-opacity="0.92" stroke="#444" stroke-width="0.3"/>
<circle cx="429.45" cy="37.33" r="0.9" fill="#bdbdbd" fill-opacity="0.92" stroke="#444" stroke-width="0.3"/>
</g>
<g transform="translate(105.8 214.8)"><use href="#us"/>
<circle cx="423.57" cy="31" r="4.2" fill="#ec523c" fill-opacity="0.92" stroke="#444" stroke-width="0.3"/>
<circle cx="403.52" cy="18.95" r="3.9" fill="#cb2944" fill-opacity="0.92" stroke="#444" stroke-width="0.3"/>
<circle cx="400.57" cy="35.09" r="3.2" fill="#d12d42" fill-opacity="0.92" stroke="#444" stroke-width="0.3"/>
<circle cx="389.64" cy="35.32" r="3.0" fill="#f05a3c" fill-opacity="0.92" stroke="#444" stroke-width="0.3"/>
<circle cx="406.41" cy="29.86" r="3.0" fill="#cb2944" fill-opacity="0.92" stroke="#444" stroke-width="0.3"/>
<circle cx="395.14" cy="15.46" r="2.9" fill="#e6423c" fill-opacity="0.92" stroke="#444" stroke-width="0.3"/>
<circle cx="386.4" cy="20.64" r="2.6" fill="#f05a3c" fill-opacity="0.92" stroke="#444" stroke-width="0.3"/>
<circle cx="413.87" cy="21" r="2.5" fill="#e94a3c" fill-opacity="0.92" stroke="#444" stroke-width="0.3"/>
<circle cx="374.95" cy="34.46" r="2.5" fill="#f05a3c" fill-opacity="0.92" stroke="#444" stroke-width="0.3"/>
<circle cx="414.02" cy="48.08" r="2.5" fill="#f05a3c" fill-opacity="0.92" stroke="#444" stroke-width="0.3"/>
<circle cx="429.45" cy="37.33" r="2.5" fill="#f05a3c" fill-opacity="0.92" stroke="#444" stroke-width="0.3"/>
<circle cx="419.07" cy="27.41" r="2.4" fill="#e94a3c" fill-opacity="0.92" stroke="#444" stroke-width="0.3"/>
<circle cx="416.12" cy="35.34" r="2.2" fill="#f05a3c" fill-opacity="0.92" stroke="#444" stroke-width="0.3"/>
<circle cx="360.8" cy="20.43" r="2.1" fill="#f05a3c" fill-opacity="0.92" stroke="#444" stroke-width="0.3"/>
<circle cx="398.16" cy="26.1" r="2.1" fill="#f79246" fill-opacity="0.92" stroke="#444" stroke-width="0.3"/>
<circle cx="352.78" cy="8.93" r="2.0" fill="#f05a3c" fill-opacity="0.92" stroke="#444" stroke-width="0.3"/>
<circle cx="349.97" cy="17.3" r="2.0" fill="#bdbdbd" fill-opacity="0.92" stroke="#444" stroke-width="0.3"/>
<circle cx="370.06" cy="13.67" r="2.0" fill="#bdbdbd" fill-opacity="0.92" stroke="#444" stroke-width="0.3"/>
<circle cx="436.74" cy="13.87" r="2.0" fill="#fbaa50" fill-opacity="0.92" stroke="#444" stroke-width="0.3"/>
<circle cx="420.94" cy="47.39" r="1.8" fill="#e6423c" fill-opacity="0.92" stroke="#444" stroke-width="0.3"/>
<circle cx="428.1" cy="23.4" r="1.7" fill="#bdbdbd" fill-opacity="0.92" stroke="#444" stroke-width="0.3"/>
<circle cx="430.99" cy="27.46" r="1.7" fill="#f26a3e" fill-opacity="0.92" stroke="#444" stroke-width="0.3"/>
<circle cx="426.38" cy="57.82" r="1.7" fill="#bdbdbd" fill-opacity="0.92" stroke="#444" stroke-width="0.3"/>
<circle cx="353.28" cy="30.5" r="1.5" fill="#fbb254" fill-opacity="0.92" stroke="#444" stroke-width="0.3"/>
<circle cx="438.6" cy="18.2" r="1.5" fill="#bdbdbd" fill-opacity="0.92" stroke="#444" stroke-width="0.3"/>
<circle cx="428.8" cy="32.12" r="1.5" fill="#f68a42" fill-opacity="0.92" stroke="#444" stroke-width="0.3"/>
<circle cx="413.46" cy="40.3" r="1.5" fill="#f89a49" fill-opacity="0.92" stroke="#444" stroke-width="0.3"/>
<circle cx="385.6" cy="13.35" r="1.3" fill="#bdbdbd" fill-opacity="0.92" stroke="#444" stroke-width="0.3"/>
<circle cx="363.68" cy="32.27" r="1.3" fill="#faa24c" fill-opacity="0.92" stroke="#444" stroke-width="0.3"/>
<circle cx="373.65" cy="45.19" r="1.2" fill="#fbb254" fill-opacity="0.92" stroke="#444" stroke-width="0.3"/>
<circle cx="401.81" cy="44.23" r="1.2" fill="#bdbdbd" fill-opacity="0.92" stroke="#444" stroke-width="0.3"/>
<circle cx="372.53" cy="23.54" r="1.1" fill="#faa24c" fill-opacity="0.92" stroke="#444" stroke-width="0.3"/>
<circle cx="412.57" cy="29.18" r="1.1" fill="#faa24c" fill-opacity="0.92" stroke="#444" stroke-width="0.3"/>
<circle cx="388.53" cy="53.16" r="1.1" fill="#bdbdbd" fill-opacity="0.92" stroke="#444" stroke-width="0.3"/>
<circle cx="407.5" cy="48.65" r="1.1" fill="#fcb959" fill-opacity="0.92" stroke="#444" stroke-width="0.3"/>
<circle cx="430.26" cy="16.65" r="1.0" fill="#fdf0a5" fill-opacity="0.92" stroke="#444" stroke-width="0.3"/>
<circle cx="438.73" cy="6.76" r="1.0" fill="#fdf0a5" fill-opacity="0.92" stroke="#444" stroke-width="0.3"/>
<circle cx="434" cy="27.86" r="1.0" fill="#fde898" fill-opacity="0.92" stroke="#444" stroke-width="0.3"/>
<circle cx="346.38" cy="35.74" r="0.8" fill="#bdbdbd" fill-opacity="0.92" stroke="#444" stroke-width="0.3"/>
</g>
<g transform="translate(211.8 214.8)"><use href="#us"/>
<circle cx="407.5" cy="48.65" r="5.63" fill="#cb2944" fill-opacity="0.92" stroke="#444" stroke-width="0.3"/>
<circle cx="401.81" cy="44.23" r="5.4" fill="#cb2944" fill-opacity="0.92" stroke="#444" stroke-width="0.3"/>
<circle cx="389.64" cy="35.32" r="5.06" fill="#f05a3c" fill-opacity="0.92" stroke="#444" stroke-width="0.3"/>
<circle cx="423.57" cy="31" r="4.71" fill="#cb2944" fill-opacity="0.92" stroke="#444" stroke-width="0.3"/>
<circle cx="391.8" cy="42.83" r="4.71" fill="#e94a3c" fill-opacity="0.92" stroke="#444" stroke-width="0.3"/>
<circle cx="388.53" cy="53.16" r="4.71" fill="#e23a3c" fill-opacity="0.92" stroke="#444" stroke-width="0.3"/>
<circle cx="361.57" cy="44.5" r="4.6" fill="#f68a42" fill-opacity="0.92" stroke="#444" stroke-width="0.3"/>
<circle cx="373.65" cy="45.19" r="4.6" fill="#fbaa50" fill-opacity="0.92" stroke="#444" stroke-width="0.3"/>
<circle cx="413.46" cy="40.3" r="4.6" fill="#f05a3c" fill-opacity="0.92" stroke="#444" stroke-width="0.3"/>
<circle cx="386.67" cy="28.2" r="4.37" fill="#fbb254" fill-opacity="0.92" stroke="#444" stroke-width="0.3"/>
<circle cx="402.7" cy="54.37" r="4.37" fill="#cb2944" fill-opacity="0.92" stroke="#444" stroke-width="0.3"/>
<circle cx="406.41" cy="29.86" r="4.25" fill="#f05a3c" fill-opacity="0.92" stroke="#444" stroke-width="0.3"/>
<circle cx="372.53" cy="23.54" r="4.14" fill="#f05a3c" fill-opacity="0.92" stroke="#444" stroke-width="0.3"/>
<circle cx="420.94" cy="47.39" r="4.14" fill="#e23a3c" fill-opacity="0.92" stroke="#444" stroke-width="0.3"/>
<circle cx="363.68" cy="32.27" r="4.02" fill="#bdbdbd" fill-opacity="0.92" stroke="#444" stroke-width="0.3"/>
<circle cx="374.95" cy="34.46" r="3.79" fill="#f68a42" fill-opacity="0.92" stroke="#444" stroke-width="0.3"/>
<circle cx="370.06" cy="13.67" r="3.68" fill="#f58241" fill-opacity="0.92" stroke="#444" stroke-width="0.3"/>
<circle cx="398.16" cy="26.1" r="3.68" fill="#f79246" fill-opacity="0.92" stroke="#444" stroke-width="0.3"/>
<circle cx="400.57" cy="35.09" r="3.68" fill="#f79246" fill-opacity="0.92" stroke="#444" stroke-width="0.3"/>
<circle cx="385.6" cy="13.35" r="3.45" fill="#bdbdbd" fill-opacity="0.92" stroke="#444" stroke-width="0.3"/>
<circle cx="386.4" cy="20.64" r="3.45" fill="#fbb254" fill-opacity="0.92" stroke="#444" stroke-width="0.3"/>
<circle cx="403.52" cy="18.95" r="3.45" fill="#fbb254" fill-opacity="0.92" stroke="#444" stroke-width="0.3"/>
<circle cx="413.87" cy="21" r="3.45" fill="#fcb959" fill-opacity="0.92" stroke="#444" stroke-width="0.3"/>
<circle cx="433.93" cy="12.37" r="3.45" fill="#bdbdbd" fill-opacity="0.92" stroke="#444" stroke-width="0.3"/>
<circle cx="353.28" cy="30.5" r="3.33" fill="#bdbdbd" fill-opacity="0.92" stroke="#444" stroke-width="0.3"/>
<circle cx="412.57" cy="29.18" r="3.33" fill="#bdbdbd" fill-opacity="0.92" stroke="#444" stroke-width="0.3"/>
<circle cx="438.73" cy="6.76" r="3.33" fill="#bdbdbd" fill-opacity="0.92" stroke="#444" stroke-width="0.3"/>
<circle cx="428.1" cy="23.4" r="3.33" fill="#f79246" fill-opacity="0.92" stroke="#444" stroke-width="0.3"/>
<circle cx="395.14" cy="15.46" r="3.22" fill="#ec523c" fill-opacity="0.92" stroke="#444" stroke-width="0.3"/>
<circle cx="419.07" cy="27.41" r="3.22" fill="#f05a3c" fill-opacity="0.92" stroke="#444" stroke-width="0.3"/>
<circle cx="436.74" cy="13.87" r="3.22" fill="#bdbdbd" fill-opacity="0.92" stroke="#444" stroke-width="0.3"/>
<circle cx="430.26" cy="16.65" r="3.22" fill="#faa24c" fill-opacity="0.92" stroke="#444" stroke-width="0.3"/>
<circle cx="430.99" cy="27.46" r="3.22" fill="#f79246" fill-opacity="0.92" stroke="#444" stroke-width="0.3"/>
<circle cx="346.38" cy="35.74" r="3.1" fill="#f05a3c" fill-opacity="0.92" stroke="#444" stroke-width="0.3"/>
<circle cx="426.38" cy="57.82" r="2.99" fill="#fcc862" fill-opacity="0.92" stroke="#444" stroke-width="0.3"/>
<circle cx="352.78" cy="8.93" r="2.88" fill="#bdbdbd" fill-opacity="0.92" stroke="#444" stroke-width="0.3"/>
<circle cx="349.97" cy="17.3" r="2.88" fill="#bdbdbd" fill-opacity="0.92" stroke="#444" stroke-width="0.3"/>
<circle cx="436.45" cy="19.15" r="2.76" fill="#f79246" fill-opacity="0.92" stroke="#444" stroke-width="0.3"/>
<circle cx="434.56" cy="23.76" r="2.76" fill="#bdbdbd" fill-opacity="0.92" stroke="#444" stroke-width="0.3"/>
<circle cx="360.8" cy="20.43" r="2.64" fill="#fbb254" fill-opacity="0.92" stroke="#444" stroke-width="0.3"/>
<circle cx="426.27" cy="42.97" r="1.84" fill="#bdbdbd" fill-opacity="0.92" stroke="#444" stroke-width="0.3"/>
<circle cx="416.12" cy="35.34" r="1.72" fill="#fcb959" fill-opacity="0.92" stroke="#444" stroke-width="0.3"/>
<circle cx="438.06" cy="17.06" r="1.38" fill="#bdbdbd" fill-opacity="0.92" stroke="#444" stroke-width="0.3"/>
</g>
<text x="422.5" y="13.1" font-size="8.2" text-anchor="middle">I</text>
<text x="527.4" y="13.1" font-size="8.2" text-anchor="middle">II</text>
<text x="631.8" y="13.1" font-size="8.2" text-anchor="middle">III</text>
<text x="422.5" y="83.6" font-size="8.2" text-anchor="middle">IV</text>
<text x="527.4" y="83.6" font-size="8.2" text-anchor="middle">V</text>
<text x="631.8" y="83.6" font-size="8.2" text-anchor="middle">VI</text>
<text x="422.5" y="154.6" font-size="8.2" text-anchor="middle">VII</text>
<text x="527.4" y="154.6" font-size="8.2" text-anchor="middle">VIII</text>
<text x="631.8" y="154.6" font-size="8.2" text-anchor="middle">IX</text>
<text x="422.5" y="225.2" font-size="8.2" text-anchor="middle">X</text>
<text x="527.4" y="225.2" font-size="8.2" text-anchor="middle">XI</text>
<text x="631.8" y="225.2" font-size="8.2" text-anchor="middle">XII</text>
<defs><linearGradient id="cb" x1="0" y1="1" x2="0" y2="0"><stop offset="0.007" stop-color="#b10026"/><stop offset="0.170" stop-color="#e31a1c"/><stop offset="0.333" stop-color="#fc4e2a"/><stop offset="0.497" stop-color="#fd8d3c"/><stop offset="0.660" stop-color="#feb24c"/><stop offset="0.824" stop-color="#fed976"/><stop offset="0.987" stop-color="#ffffb2"/></linearGradient></defs>
<rect x="662" y="103.7" width="7.9" height="89.7" fill="url(#cb)"/>
<path d="M662 134H663.6M668.3 134H669.9M662 163.5H663.6M668.3 163.5H669.9M662 105H663.6M668.3 105H669.9" stroke="#fff" stroke-width="0.6"/>
<text x="662.4" y="97.9" font-size="9.2">Week</text>
<text x="673.9" y="107.3" font-size="9">15</text>
<text x="673.9" y="136.4" font-size="9">10</text>
<text x="673.9" y="165.9" font-size="9">5</text>
<text x="673.9" y="195.3" font-size="9">0</text>
</svg>
</body></html>
